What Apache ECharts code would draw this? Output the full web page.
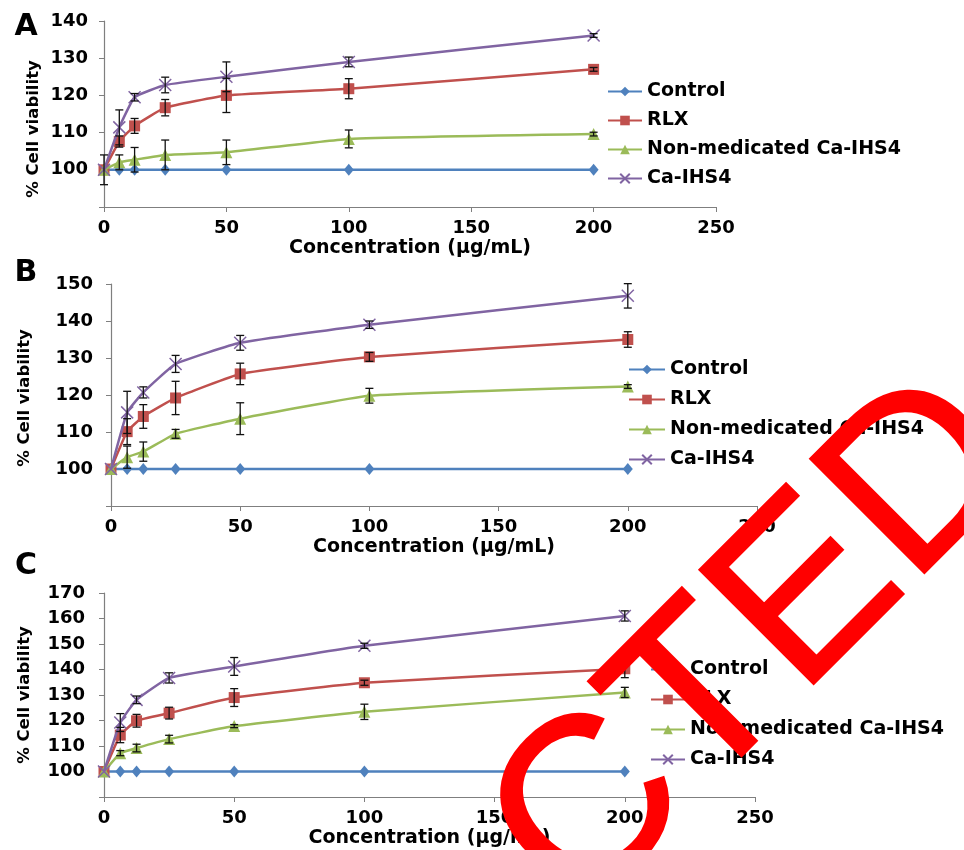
<!DOCTYPE html>
<html>
<head>
<meta charset="utf-8">
<script src="https://cdn.jsdelivr.net/npm/echarts@6/dist/echarts.min.js"></script>
<style>
html,body{margin:0;padding:0;background:#fff;}
#chart{width:964px;height:850px;}
</style>
</head>
<body>
<div id="chart"></div>
<script>
// ---- data ----
const concentrations = [0, 6.25, 12.5, 25, 50, 100, 200];
const seriesNames = ['Control', 'RLX', 'Non-medicated Ca-IHS4', 'Ca-IHS4'];
const xTicks = [0, 50, 100, 150, 200, 250];

// Panel A
const A_control = [100, 100, 100, 100, 100, 100, 100];
const A_rlx     = [100, 107.6, 111.8, 116.7, 120.0, 121.8, 127.0];
const A_nonmed  = [100, 102.0, 102.7, 104.0, 104.7, 108.3, 109.6];
const A_ca      = [100, 111.4, 119.5, 122.8, 125.0, 129.0, 136.1];
const A_control_err = [4, 0, 0, 0, 0, 0, 0];
const A_rlx_err     = [0, 1.5, 2.0, 2.2, 4.6, 2.7, 0.5];
const A_nonmed_err  = [0, 2.0, 3.3, 4.0, 3.3, 2.4, 0.5];
const A_ca_err      = [0, 4.7, 1.0, 2.1, 4.0, 1.3, 0.5];

// Panel B
const B_control = [100, 100, 100, 100, 100, 100, 100];
const B_rlx     = [100, 110.1, 114.2, 119.2, 125.7, 130.3, 135.0];
const B_nonmed  = [100, 103.2, 104.7, 109.5, 113.6, 119.8, 122.3];
const B_ca      = [100, 115.3, 120.7, 128.4, 134.1, 139.0, 146.8];
const B_control_err = [0, 0, 0, 0, 0, 0, 0];
const B_rlx_err     = [0, 3.5, 3.2, 4.5, 2.9, 1.2, 2.1];
const B_nonmed_err  = [0, 3.0, 2.6, 1.2, 4.3, 2.0, 0.5];
const B_ca_err      = [0, 5.7, 1.5, 2.3, 2.0, 1.0, 3.3];

// Panel C
const C_control = [100, 100, 100, 100, 100, 100, 100];
const C_rlx     = [100, 114.3, 119.9, 122.9, 129.0, 134.8, 140.3];
const C_nonmed  = [100, 107.2, 109.2, 112.7, 117.8, 123.4, 131.0];
const C_ca      = [100, 119.2, 128.1, 136.7, 141.2, 149.3, 161.0];
const C_control_err = [0, 0, 0, 0, 0, 0, 0];
const C_rlx_err     = [0, 3.0, 2.5, 2.3, 3.5, 1.0, 3.5];
const C_nonmed_err  = [0, 1.0, 1.5, 1.5, 0.6, 3.0, 2.0];
const C_ca_err      = [0, 3.5, 1.5, 2.0, 3.5, 1.0, 2.0];

// ---- styling ----
const colors = ['#4F81BD', '#C0504D', '#9BBB59', '#8064A2'];
const symbols = ['diamond', 'rect', 'triangle', 'path://M0,0L10,10M10,0L0,10'];
const symbolSizes = [[10, 12], 11, 12, 12];
const FONT = 'DejaVu Sans';

const panels = [
  { vals: [A_control, A_rlx, A_nonmed, A_ca], errs: [A_control_err, A_rlx_err, A_nonmed_err, A_ca_err],
    grid: { left: 104, top: 21, width: 612, height: 186 }, ymin: 90, ymax: 140, ylabMargin: 16,
    legend: { left: 607, top: 82, itemWidth: 34, itemGap: 10 },
    ytitle: [34, 129], label: ['A', 26, 27] },
  { vals: [B_control, B_rlx, B_nonmed, B_ca], errs: [B_control_err, B_rlx_err, B_nonmed_err, B_ca_err],
    grid: { left: 111, top: 284, width: 646, height: 222 }, ymin: 90, ymax: 150, ylabMargin: 18,
    legend: { left: 628, top: 360, itemWidth: 36, itemGap: 11 },
    ytitle: [25, 398], label: ['B', 26, 273] },
  { vals: [C_control, C_rlx, C_nonmed, C_ca], errs: [C_control_err, C_rlx_err, C_nonmed_err, C_ca_err],
    grid: { left: 104, top: 593, width: 651, height: 204 }, ymin: 90, ymax: 170, ylabMargin: 19,
    legend: { left: 650, top: 660, itemWidth: 34, itemGap: 11 },
    ytitle: [25, 695], label: ['C', 26, 566] }
];

const axisLine = { show: true, lineStyle: { color: '#7f7f7f', width: 1.2 } };
const grids = [], xAxes = [], yAxes = [], series = [], legends = [], graphics = [];

panels.forEach((p, gi) => {
  grids.push(Object.assign({ containLabel: false }, p.grid));
  xAxes.push({
    type: 'value', gridIndex: gi, min: xTicks[0], max: xTicks[xTicks.length - 1], interval: 50,
    axisLine: axisLine, axisTick: { show: true, length: 5, lineStyle: { color: '#7f7f7f' } },
    splitLine: { show: false },
    axisLabel: { margin: 12, color: '#000', fontFamily: FONT, fontWeight: 'bold', fontSize: 18 },
    name: 'Concentration (μg/mL)', nameLocation: 'middle', nameGap: 32,
    nameTextStyle: { color: '#000', fontFamily: FONT, fontWeight: 'bold', fontSize: 19 }
  });
  yAxes.push({
    type: 'value', gridIndex: gi, min: p.ymin, max: p.ymax, interval: 10,
    axisLine: axisLine, axisTick: { show: true, length: 5, lineStyle: { color: '#7f7f7f' } },
    splitLine: { show: false },
    axisLabel: { margin: p.ylabMargin, color: '#000', fontFamily: FONT, fontWeight: 'bold', fontSize: 18,
      formatter: v => (v === p.ymin ? '' : String(v)) }
  });
  p.vals.forEach((vals, si) => {
    series.push({
      type: 'line', name: seriesNames[si], xAxisIndex: gi, yAxisIndex: gi,
      data: concentrations.map((c, i) => [c, vals[i]]),
      smooth: 0.12,
      symbol: symbols[si], symbolSize: symbolSizes[si], showAllSymbol: true,
      lineStyle: { color: colors[si], width: 2.5 },
      itemStyle: { color: colors[si], borderColor: colors[si], borderWidth: si === 3 ? 1.5 : 0 },
      z: 2 + si, animation: false
    });
  });
  const errData = [];
  p.vals.forEach((vals, si) => {
    concentrations.forEach((c, i) => {
      if (p.errs[si][i] > 0) errData.push([c, vals[i], p.errs[si][i]]);
    });
  });
  series.push({
    type: 'custom', name: 'error' + gi, xAxisIndex: gi, yAxisIndex: gi, data: errData, z: 10,
    silent: true, animation: false,
    renderItem: (params, api) => {
      const x = api.value(0), y = api.value(1), e = api.value(2);
      const t = api.coord([x, y + e]), b = api.coord([x, y - e]);
      const w = 4;
      const st = { stroke: '#111', lineWidth: 1.3 };
      return { type: 'group', children: [
        { type: 'line', shape: { x1: t[0], y1: t[1], x2: b[0], y2: b[1] }, style: st },
        { type: 'line', shape: { x1: t[0] - w, y1: t[1], x2: t[0] + w, y2: t[1] }, style: st },
        { type: 'line', shape: { x1: b[0] - w, y1: b[1], x2: b[0] + w, y2: b[1] }, style: st }
      ]};
    }
  });
  legends.push({
    data: seriesNames, orient: 'vertical', left: p.legend.left, top: p.legend.top, padding: 0,
    itemWidth: p.legend.itemWidth, itemHeight: 12, itemGap: p.legend.itemGap,
    textStyle: { color: '#000', fontFamily: FONT, fontWeight: 'bold', fontSize: 19 }
  });
  graphics.push({
    type: 'text', x: p.ytitle[0], y: p.ytitle[1], rotation: Math.PI / 2,
    style: { text: '% Cell viability', fill: '#000', font: 'bold 16.5px "DejaVu Sans"', align: 'center', verticalAlign: 'middle' }
  });
  graphics.push({
    type: 'text', x: p.label[1], y: p.label[2],
    style: { text: p.label[0], fill: '#000', font: 'bold 30px "DejaVu Sans"', align: 'center', verticalAlign: 'middle' }
  });
});

// watermark
graphics.push({
  type: 'text', x: 985, y: 421, rotation: Math.PI / 4, z: 100,
  style: { text: 'RETRACTED', fill: '#ff0000', stroke: '#ff0000', lineWidth: 2,
    font: '235px "Liberation Sans"', align: 'right', verticalAlign: 'middle' }
});

const chart = echarts.init(document.getElementById('chart'), null, { renderer: 'canvas' });
chart.setOption({
  animation: false,
  backgroundColor: '#fff',
  grid: grids, xAxis: xAxes, yAxis: yAxes, series: series, legend: legends,
  graphic: { elements: graphics }
});
</script>
</body>
</html>
